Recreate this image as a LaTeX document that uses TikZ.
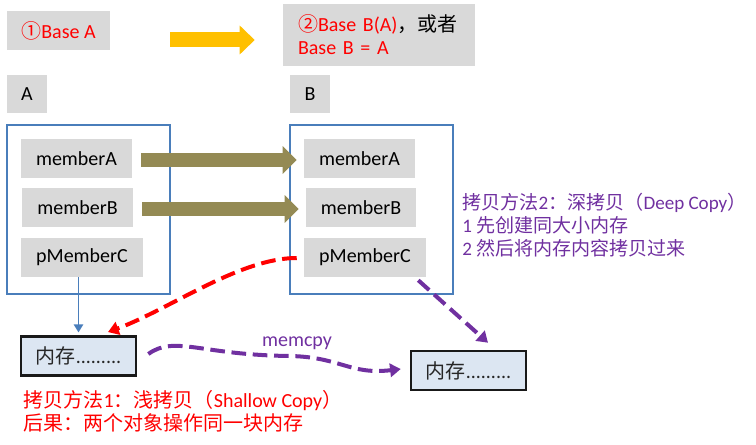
\documentclass[tikz,border=0pt]{standalone}
\usepackage{fontspec}
\setmainfont{Carlito}
\newfontfamily\cjk{Noto Sans CJK SC}
\usetikzlibrary{arrows.meta,calc}

\definecolor{boxgray}{HTML}{D9D9D9}
\definecolor{objblue}{HTML}{4A7EBB}
\definecolor{memfill}{HTML}{DCE6F2}
\definecolor{olive}{HTML}{948A54}
\definecolor{copyyellow}{HTML}{FFC000}
\definecolor{deeppurple}{HTML}{7030A0}

\begin{document}
\begin{tikzpicture}[x=0.75pt, y=-0.75pt,
    font=\fontsize{15}{17.25}\selectfont,
    field/.style={fill=boxgray, inner sep=0pt, minimum height=29.25pt},
    membox/.style={draw=black!90, line width=1.9pt, fill=memfill, inner sep=0pt,
        minimum width=86.25pt, minimum height=29.5pt, text=black!85},
    objbox/.style={draw=objblue, line width=1.1pt},
    blockarrow/.style={line width=11pt, -{Triangle[length=10.5pt, width=20pt]}},
    copyline/.style={line width=3pt, dash pattern=on 11pt off 5pt,
        -{Triangle[length=8pt, width=10pt]}}]

    % Keep the picture at the size of the reference
    \useasboundingbox (0,0) rectangle (756,445);

    % Step labels on top
    \node[field, minimum width=77.25pt, text=red] (baseA) at (58.5,30.5)
        {{\cjk ①}Base A};
    \node[field, minimum width=144pt, minimum height=46.5pt, text width=121.5pt,
        align=left] (baseB) at (379,35)
        {\textcolor{red}{{\cjk ②}Base B(A)}{\cjk ，或者}\\
         \textcolor{red}{Base B = A}};
    \draw[blockarrow, copyyellow, line width=11.25pt,
        -{Triangle[length=11.25pt, width=21pt]}]
        ($(baseA.east)+(60,9.5)$) -- ($(baseB.west)+(-28,5)$);

    % Object names
    \node[field, minimum width=30pt, minimum height=28.5pt] (labA) at (27,94) {A};
    \node[field, minimum width=30pt, minimum height=28.5pt] (labB) at (310,94) {B};

    % The two objects
    \draw[objbox] (7,125) rectangle (170,294);
    \draw[objbox] (290,125) rectangle (453,294);

    % Members of A
    \node[field, minimum width=83.25pt] (memA1) at (76.5,158.5) {memberA};
    \node[field, minimum width=83.25pt] (memB1) at (77.5,207.5) {memberB};
    \node[field, minimum width=91.5pt] (pMC1) at (82,257.5) {pMemberC};

    % Members of B
    \node[field, minimum width=83.25pt] (memA2) at (359.5,158.5) {memberA};
    \node[field, minimum width=82.5pt] (memB2) at (361,207.5) {memberB};
    \node[field, minimum width=91.5pt] (pMC2) at (365,257.5) {pMemberC};

    % Plain members are copied over
    \foreach \src/\dst in {memA1/memA2, memB1/memB2} {
        \draw[blockarrow, olive] ($(\src.east)+(9,1.5)$) -- ($(\dst.west)+(-7,1.5)$);
    }

    % Memory blocks
    \node[membox] (mem1) at (78.5,356) {{\cjk 内存}.........};
    \node[membox, minimum height=29.25pt] (mem2) at (468.5,370.5) {{\cjk 内存}.........};

    % Pointer of A
    \draw[objblue, line width=1.3pt, -{Triangle[length=6pt, width=7pt]}, shorten >=2pt]
        (pMC1.south -| mem1.north) -- (mem1.north);

    % Shallow copy: pointer of B points at the same memory
    \draw[copyline, red] ($(pMC2.west)+(-7,0.5)$)
        .. controls +(-57,0) and +(62,-23) .. ($(mem1.north)+(29.5,-3)$);

    % Deep copy: new memory, then memcpy
    \draw[copyline, deeppurple] ($(pMC2.south east)+(-8,3)$) -- ($(mem2.north)+(19.5,-7)$);
    \coordinate (cpyfrom) at ($(mem1.east)+(11,-2)$);
    \coordinate (cpymid) at (290,356);
    \draw[copyline, deeppurple] (cpyfrom) .. controls (175,335) and (200,355) .. (cpymid)
        .. controls (340,357) and (350,375) .. ($(mem2.west)+(-9,-1.5)$);
    \node[deeppurple] (memcpy) at (297,343) {memcpy};

    % Notes
    \node[deeppurple, anchor=west, align=left, inner xsep=0pt,
        font=\fontsize{14.3}{17.25}\selectfont] (deepnote) at (462,225)
        {{\cjk 拷贝方法}2{\cjk ：深拷贝（}Deep Copy{\cjk ）}\\
         1 {\cjk 先创建同大小内存}\\
         2 {\cjk 然后将内存内容拷贝过来}};
    \node[red, anchor=west, align=left] (shallownote) at (19,411.5)
        {{\cjk 拷贝方法}1{\cjk ：浅拷贝（}Shallow Copy{\cjk ）}\\
         {\cjk 后果：两个对象操作同一块内存}};
\end{tikzpicture}
\end{document}
